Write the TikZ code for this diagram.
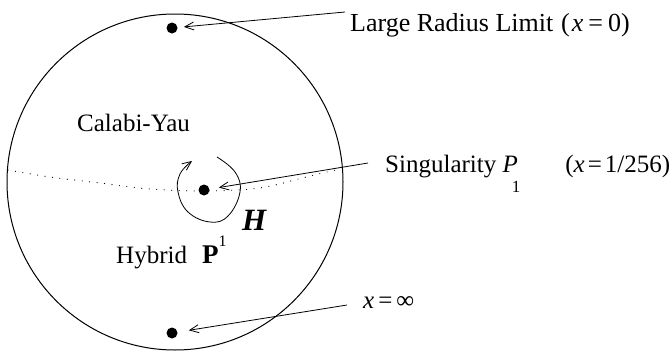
\documentclass[tikz,border=0pt]{standalone}
\usepackage{fontspec}
\setmainfont{Liberation Serif}
\usetikzlibrary{arrows.meta}
\begin{document}
\begin{tikzpicture}[x=1pt,y=-1pt,
  lbl/.style={font=\fontsize{25}{30}\selectfont, inner sep=0pt, anchor=base west},
  pt/.style={circle, fill=black, inner sep=0pt, minimum size=11pt},
  arr/.style={line width=0.8pt, -{Straight Barb[length=9pt,width=8pt,line width=0.8pt]}},
  dotline/.style={line width=1.2pt, line cap=round, dash pattern=on 0pt off 7.5pt}]
\useasboundingbox (0,0) rectangle (672,351);
% big circle
\node (disc) [circle, draw, line width=1pt, minimum size=336pt, inner sep=0pt] at (175,182) {};
% dotted boundary
\draw[dotline] plot[smooth] coordinates {(8,170) (50,177) (100,183) (150,189) (204,191) (260,188) (310,176) (340,169)};
% points
\node (lrl) [pt] at (172,28) {};
\node (sing) [pt] at (204,190) {};
\node (inf) [pt] at (172,333) {};
% labels
\node (lrltxt) [lbl, font=\fontsize{26}{30}\selectfont] at (350,31) {Large Radius Limit\hspace{0.3em}(\hspace{2pt}\textit{x}\hspace{5pt}=\hspace{5pt}0)};
\node (singtxt) [lbl] at (385,172) {Singularity \textit{P}\kern-6pt\raisebox{-20pt}{\fontsize{17}{17}\selectfont 1}\hspace{1.8em}(\textit{x}\hspace{3pt}=\hspace{3pt}1/256)};
\node (inftxt) [lbl] at (363,308) {\textit{x}\hspace{4pt}=\hspace{4pt}∞};
\node (cy) [lbl] at (77,131) {Calabi-Yau};
\node (hyb) [lbl] at (116,263) {Hybrid\hspace{0.6em}{\fontsize{27}{30}\selectfont\textbf{P}}\raisebox{17pt}{\fontsize{16}{16}\selectfont 1}};
\node (H) [lbl, font=\fontsize{31}{36}\selectfont\bfseries\itshape] at (242,230) {H};
% arrow starts
\coordinate (a1) at (345,12);
\coordinate (a2) at (368,163);
\coordinate (a3) at (347,305);
\draw[arr, shorten >=12pt] (a1) -- (lrl.center);
\draw[arr, shorten >=15pt] (a2) -- (sing.center);
\draw[arr, shorten >=17pt] (a3) -- (inf.center);
% monodromy loop
\draw[arr] plot[smooth, tension=0.7] coordinates {(217,157) (235,172) (240,192) (228,216) (210,222) (188,212) (178,192) (180,174) (192,161)};
\end{tikzpicture}
\end{document}
